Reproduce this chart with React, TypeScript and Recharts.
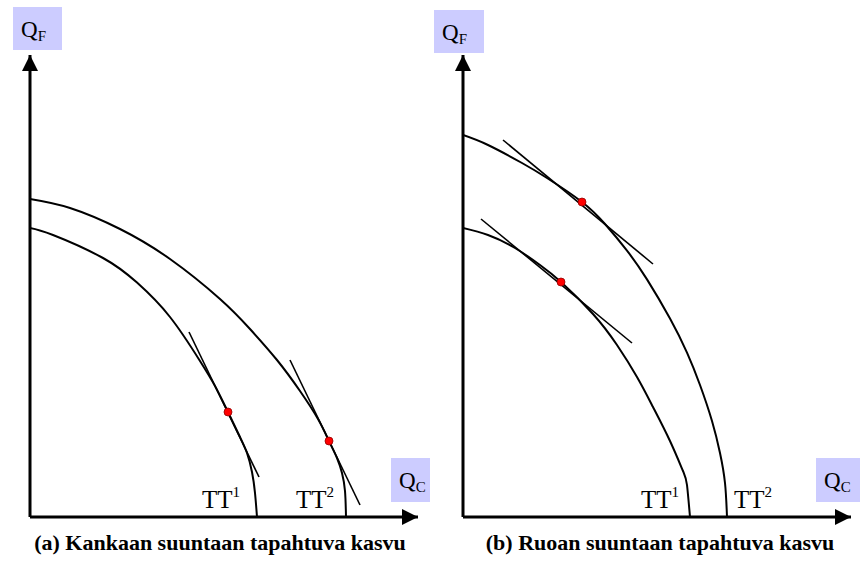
import React from "react";
import { ComposedChart, Line, Scatter, XAxis, YAxis, Customized } from "recharts";

// Q_C along the horizontal axis, Q_F up the vertical one (same units on both)
const QC_MAX = 97;
const QF_MAX = 115.5;

type Pair = [number, number];

// (a) growth biased toward cloth
const clothTT1: Pair[] = [
  [0, 72.25], [5.75, 70.5], [18.25, 64.75], [26.75, 58.6], [35, 50], [42.5, 39],
  [46.25, 32.75], [49.5, 26.25], [52.5, 20], [54.25, 16], [55.5, 11.25], [56.25, 6], [56.75, 0],
];
const clothTT2: Pair[] = [
  [0, 79.5], [10, 77.25], [22.5, 72], [35, 64.5], [47.5, 54.5], [55, 47], [61.75, 39.25],
  [67.5, 31.5], [72, 24.5], [74.75, 19], [76.75, 14.75], [78, 11], [78.75, 6.5], [79, 0],
];
const clothTangent1: Pair[] = [[39.75, 46.25], [57.25, 10]];
const clothTangent2: Pair[] = [[65, 39.25], [82.5, 3]];
const clothPoints: Pair[] = [[49.5, 26.25], [74.75, 19]];

// (b) growth biased toward food
const foodTT1: Pair[] = [
  [0, 72.25], [6.25, 70.5], [13, 67.25], [19.25, 63], [24.5, 58.75], [32.5, 50.75], [38.5, 43],
  [43.5, 35], [47.5, 27.5], [51.75, 19], [55, 11.5], [56, 8], [56.75, 0],
];
const foodTT2: Pair[] = [
  [0, 95.5], [6.25, 93], [14.75, 88.5], [21, 84.75], [29.75, 78.75], [35.5, 73.25], [41, 66.6],
  [46, 59.4], [51.75, 49.6], [56, 41.1], [59.25, 33], [62.25, 24], [64.25, 16],
  [65.5, 8.5], [66, 0],
];
const foodTangent1: Pair[] = [[4.5, 74.5], [42.25, 43.5]];
const foodTangent2: Pair[] = [[10, 94.25], [47.5, 63.25]];
const foodPoints: Pair[] = [[24.5, 58.75], [29.75, 78.75]];

const captions = [
  "(a) Kankaan suuntaan tapahtuva kasvu",
  "(b) Ruoan suuntaan tapahtuva kasvu",
];

const toPoints = (pairs: Pair[]) => pairs.map(([qc, qf]) => ({ qc, qf }));

const SERIF = '"Liberation Serif", "Times New Roman", serif';
const BOX = "#ccccff";
const serif = { fontFamily: SERIF };

interface PanelText {
  id: string;
  caption: string;
  captionX: number;
  qf: { x: number; y: number; w: number; h: number };
  qc: { x: number; y: number; w: number; h: number };
  tt1X: number;
  tt2X: number;
}

const Overlay = ({ t }: { t: PanelText }) => (
  <g fill="#000">
    <defs>
      <marker
        id={`${t.id}-arrow`}
        viewBox="0 0 16 16"
        refX={16}
        refY={8}
        markerWidth={16}
        markerHeight={16}
        markerUnits="userSpaceOnUse"
        orient="auto-start-reverse"
      >
        <path d="M0,0 L16,8 L0,16 z" fill="#000" />
      </marker>
    </defs>
    <rect x={t.qf.x} y={t.qf.y} width={t.qf.w} height={t.qf.h} fill={BOX} />
    <text x={t.qf.x + 8} y={t.qf.y + 30} fontSize={23} style={serif}>
      Q<tspan fontSize={15} dy={4}>F</tspan>
    </text>
    <rect x={t.qc.x} y={t.qc.y} width={t.qc.w} height={t.qc.h} fill={BOX} />
    <text x={t.qc.x + 8} y={t.qc.y + 30} fontSize={23} style={serif}>
      Q<tspan fontSize={15} dy={4}>C</tspan>
    </text>
    <text x={t.tt1X} y={508} fontSize={25} style={serif}>
      TT<tspan fontSize={15} dy={-11}>1</tspan>
    </text>
    <text x={t.tt2X} y={508} fontSize={25} style={serif}>
      TT<tspan fontSize={15} dy={-11}>2</tspan>
    </text>
    <text x={t.captionX} y={550} fontSize={22} fontWeight="bold" textAnchor="middle" style={serif}>
      {t.caption}
    </text>
  </g>
);

interface PanelProps {
  left: number;
  marginLeft: number;
  tt1: Pair[];
  tt2: Pair[];
  tangent1: Pair[];
  tangent2: Pair[];
  points: Pair[];
  text: PanelText;
}

const RedDot = (props: any) => (
  <circle cx={props.cx} cy={props.cy} r={4} fill="#ff0000" stroke="#900000" strokeWidth={0.8} />
);

const Panel = ({ left, marginLeft, tt1, tt2, tangent1, tangent2, points, text }: PanelProps) => {
  const arrow = `url(#${text.id}-arrow)`;
  // 1px axis bands: the plot area starts at marginLeft and ends at y=517
  return (
    <div style={{ position: "absolute", left, top: 0 }}>
      <ComposedChart
        width={430}
        height={570}
        margin={{ top: 55, right: 430 - marginLeft - 388, bottom: 52, left: marginLeft - 1 }}
      >
        <Customized component={<Overlay t={text} />} />
        <XAxis
          type="number"
          dataKey="qc"
          domain={[0, QC_MAX]}
          allowDataOverflow
          height={1}
          tick={false}
          tickLine={false}
          axisLine={{ stroke: "#000", strokeWidth: 3, markerEnd: arrow }}
        />
        <YAxis
          type="number"
          dataKey="qf"
          domain={[0, QF_MAX]}
          allowDataOverflow
          width={1}
          tick={false}
          tickLine={false}
          axisLine={{ stroke: "#000", strokeWidth: 3, markerStart: arrow }}
        />
        <Line data={toPoints(tt1)} dataKey="qf" type="natural" stroke="#000" strokeWidth={2} dot={false} isAnimationActive={false} />
        <Line data={toPoints(tt2)} dataKey="qf" type="natural" stroke="#000" strokeWidth={2} dot={false} isAnimationActive={false} />
        <Line data={toPoints(tangent1)} dataKey="qf" type="linear" stroke="#000" strokeWidth={1.6} dot={false} isAnimationActive={false} />
        <Line data={toPoints(tangent2)} dataKey="qf" type="linear" stroke="#000" strokeWidth={1.6} dot={false} isAnimationActive={false} />
        <Scatter data={toPoints(points)} dataKey="qf" shape={RedDot} isAnimationActive={false} />
      </ComposedChart>
    </div>
  );
};

export default function App() {
  return (
    <div style={{ position: "absolute", left: 0, top: 0, width: 860, height: 570, background: "#fff" }}>
      <Panel
        left={0}
        marginLeft={30}
        tt1={clothTT1}
        tt2={clothTT2}
        tangent1={clothTangent1}
        tangent2={clothTangent2}
        points={clothPoints}
        text={{
          id: "cloth",
          caption: captions[0],
          captionX: 220,
          qf: { x: 13, y: 7, w: 49, h: 43 },
          qc: { x: 391, y: 458, w: 50, h: 44 },
          tt1X: 202,
          tt2X: 296,
        }}
      />
      <Panel
        left={430}
        marginLeft={33}
        tt1={foodTT1}
        tt2={foodTT2}
        tangent1={foodTangent1}
        tangent2={foodTangent2}
        points={foodPoints}
        text={{
          id: "food",
          caption: captions[1],
          captionX: 230,
          qf: { x: 4, y: 10, w: 50, h: 43 },
          qc: { x: 386, y: 458, w: 44, h: 44 },
          tt1X: 211,
          tt2X: 304,
        }}
      />
    </div>
  );
}
